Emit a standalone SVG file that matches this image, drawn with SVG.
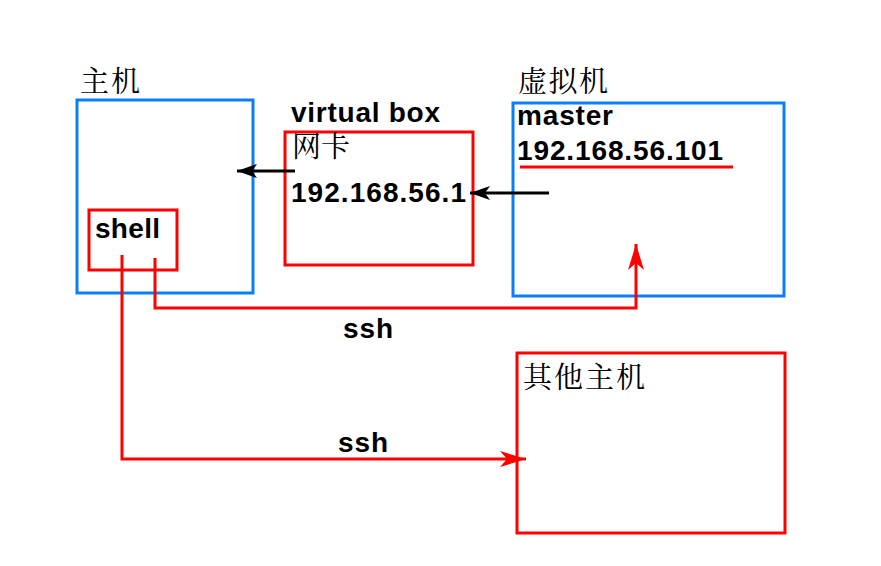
<svg xmlns="http://www.w3.org/2000/svg" width="881" height="566" viewBox="0 0 881 566">
<style>
.blue{fill:none;stroke:#0a7ef7;stroke-width:3}
.red{fill:none;stroke:#ff0000;stroke-width:3}
.b{font-family:"Liberation Sans",Arial,sans-serif;font-weight:bold;font-size:28px;fill:#000}
.cjk{font-family:"Liberation Serif","Noto Serif CJK SC","Noto Sans CJK SC",serif;font-size:29px;fill:#000}
.blk{fill:none;stroke:#000;stroke-width:3}
.rl{fill:none;stroke:#ff0000;stroke-width:3}
</style>
<defs>
<marker id="ak" markerUnits="userSpaceOnUse" markerWidth="22" markerHeight="18" refX="20" refY="9" orient="auto"><path d="M0,2 L20,9 L0,16 L5,9 Z" fill="#000"/></marker>
<marker id="ar" markerUnits="userSpaceOnUse" markerWidth="28" markerHeight="20" refX="26" refY="10" orient="auto"><path d="M0,2 L26,10 L0,18 L7,10 Z" fill="#ff0000"/></marker>
</defs>
<rect width="881" height="566" fill="#fff"/>
<g id="host">
<text class="cjk" x="80" y="92" textLength="60">主机</text>
<rect class="blue" x="77" y="100" width="176" height="193"/>
</g>
<g id="shell">
<rect class="red" x="89" y="210" width="88" height="60"/>
<text class="b" x="95" y="238" textLength="65">shell</text>
</g>
<g id="nic">
<text class="b" x="291" y="122" textLength="149">virtual box</text>
<rect class="red" x="285" y="132" width="188" height="133"/>
<text class="cjk" x="292" y="157" textLength="58">网卡</text>
<text class="b" x="291" y="202" textLength="175">192.168.56.1</text>
</g>
<g id="vm">
<text class="cjk" x="518" y="92" textLength="90">虚拟机</text>
<rect class="blue" x="513" y="103" width="271" height="193"/>
<text class="b" x="517" y="125" textLength="96">master</text>
<text class="b" x="517" y="160" textLength="206">192.168.56.101</text>
<line x1="520" y1="167" x2="733" y2="167" stroke="#ff0000" stroke-width="3"/>
</g>
<g id="other">
<rect class="red" x="517" y="353" width="268" height="180"/>
<text class="cjk" x="523" y="388" textLength="122">其他主机</text>
</g>
<g id="connectors">
<line class="blk" x1="295" y1="171" x2="237" y2="171" marker-end="url(#ak)"/>
<line class="blk" x1="549" y1="193" x2="470" y2="193" marker-end="url(#ak)"/>
<polyline class="rl" points="155,258 155,308 636,308 636,244" marker-end="url(#ar)"/>
<polyline class="rl" points="122,255 122,459 526,459" marker-end="url(#ar)"/>
<text class="b" x="343" y="338" textLength="50">ssh</text>
<text class="b" x="338" y="452" textLength="50">ssh</text>
</g>
</svg>
